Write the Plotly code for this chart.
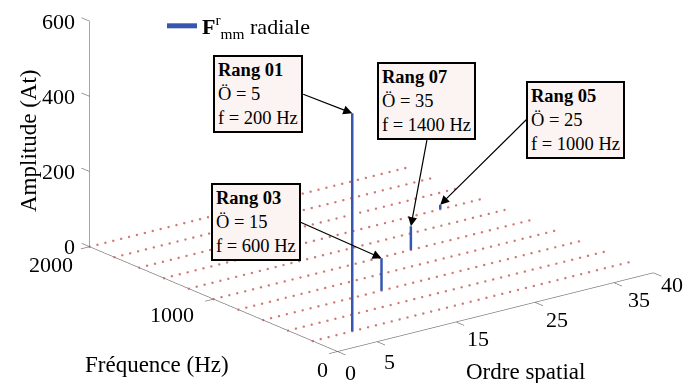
import plotly.graph_objects as go

# ---------------- data ----------------
stem_order = [5, 15, 25, 35]
stem_freq = [200, 600, 1000, 1400]
stem_amp = [580, 86, 63, 12]

grid_order = list(range(0, 41))
grid_freq = [200, 400, 600, 800, 1000, 1200, 1400, 1600, 1800, 2000]

order_ticks = [0, 5, 15, 25, 35, 40]
freq_ticks = [0, 1000, 2000]
amp_ticks = [0, 200, 400, 600]

labels = ["Rang 01", "Rang 03", "Rang 07", "Rang 05"]
label_order = [5, 15, 35, 25]
label_freq = [200, 600, 1400, 1000]

# label placement (pixel shifts, style only)
order_shift_x = [13, 12, 22, 22, 25, 19]
order_shift_y = [-21, -20, -17, -17, -17, -12]
freq_shift_x = [-8, -18, -15]
freq_shift_y = [-18, -15, -18]

SERIF = "Liberation Serif, Times New Roman, serif"
AX = "#707070"
BLUE = "#3656b0"

fig = go.Figure()

# zero-level grid points (dotted red)
gx, gy, gz = [], [], []
for f in grid_freq:
    for o in grid_order:
        gx.append(o); gy.append(f); gz.append(0)
fig.add_trace(go.Scatter3d(x=gx, y=gy, z=gz, mode="markers",
                           marker=dict(size=1.4, color="#d27676", line=dict(width=0)),
                           showlegend=False, hoverinfo="skip"))

# axis lines and ticks
O_MAX, F_MAX, Z_MAX = order_ticks[-1], freq_ticks[-1], amp_ticks[-1]
lx, ly, lz = [], [], []
def seg(p, q):
    lx.extend([p[0], q[0], None]); ly.extend([p[1], q[1], None]); lz.extend([p[2], q[2], None])
seg((0, 0, 0), (O_MAX, 0, 0))
seg((0, 0, 0), (0, F_MAX, 0))
seg((0, F_MAX, 0), (0, F_MAX, Z_MAX))
for o in order_ticks:
    seg((o, 0, 0), (o, -65, 0))
for f in freq_ticks:
    seg((0, f, 0), (-1.1, f, 0))
for z in amp_ticks:
    seg((0, F_MAX, z), (0, F_MAX + 65, z))
fig.add_trace(go.Scatter3d(x=lx, y=ly, z=lz, mode="lines",
                           line=dict(color=AX, width=1.3),
                           showlegend=False, hoverinfo="skip"))

# stems
sx, sy, sz = [], [], []
for o, f, a in zip(stem_order, stem_freq, stem_amp):
    sx.extend([o, o, None]); sy.extend([f, f, None]); sz.extend([0, a, None])
fig.add_trace(go.Scatter3d(x=sx, y=sy, z=sz, mode="lines",
                           line=dict(color=BLUE, width=5),
                           name="<b>F</b><sup>r</sup><sub>mm</sub> radiale",
                           hoverinfo="skip"))

# annotations in the scene
ann = []
tick_font = dict(family=SERIF, size=22, color="black")
for o, dx, dy in zip(order_ticks, order_shift_x, order_shift_y):
    ann.append(dict(x=o, y=0, z=0, text=str(o), showarrow=False,
                    xanchor="center", yanchor="middle", xshift=dx, yshift=dy, font=tick_font))
for f, dx, dy in zip(freq_ticks, freq_shift_x, freq_shift_y):
    ann.append(dict(x=0, y=f, z=0, text=str(f), showarrow=False,
                    xanchor="right", yanchor="middle", xshift=dx, yshift=dy, font=tick_font))
for z in amp_ticks:
    ann.append(dict(x=0, y=F_MAX, z=z, text=str(z), showarrow=False,
                    xanchor="right", yanchor="middle", xshift=-13, yshift=0, font=tick_font))

# callouts: tip data point, offset of the tail, anchor of the box
tips = {
    "Rang 01": (5, 200, 580, -49, -19, "right", "middle"),
    "Rang 03": (15, 600, 86, -81, -36, "right", "middle"),
    "Rang 07": (25, 1000, 63, 16, -86, "center", "bottom"),
    "Rang 05": (35, 1400, 12, 86, -85, "left", "middle"),
}
for lab, o, f in zip(labels, label_order, label_freq):
    tx, ty, tz, axo, ayo, xa, ya = tips[lab]
    ann.append(dict(x=tx, y=ty, z=tz,
                    text=f"<b>{lab}</b><br>Ö = {o}<br>f = {f} Hz",
                    align="left", showarrow=True, arrowhead=2, arrowsize=1.5,
                    arrowwidth=1.2, arrowcolor="black", ax=axo, ay=ayo,
                    xanchor=xa, yanchor=ya, bgcolor="#fbf4f2", bordercolor="black",
                    borderwidth=2, borderpad=3, standoff=0,
                    font=dict(family=SERIF, size=18.5, color="black")))

# camera: view direction, translated centre
vdir = (-0.576, -0.750, 0.3245)
cen = (-0.1505, 0.0226, -0.2150)
d = 2.0
eye = dict(x=cen[0] + vdir[0] * d, y=cen[1] + vdir[1] * d, z=cen[2] + vdir[2] * d)
k = 2.75 * 304 / 383

hidden = dict(visible=False, showgrid=False, zeroline=False, showbackground=False,
              showspikes=False)
fig.update_layout(
    width=684, height=383,
    margin=dict(l=0, r=0, t=0, b=0),
    paper_bgcolor="white",
    font=dict(family=SERIF, size=22, color="black"),
    showlegend=True,
    legend=dict(x=162 / 684, y=1 - 26 / 383, xanchor="left", yanchor="middle",
                bgcolor="rgba(0,0,0,0)", font=dict(family=SERIF, size=22)),
    scene=dict(
        domain=dict(x=[0, 1], y=[0, 1]),
        xaxis=dict(range=[-1.5, 40.5], **hidden),
        yaxis=dict(range=[-80, 2080], **hidden),
        zaxis=dict(range=[-4, 604], **hidden),
        aspectmode="manual",
        aspectratio=dict(x=1 * k, y=1.052 * k, z=0.578 * k),
        camera=dict(eye=eye, up=dict(x=0, y=0, z=1),
                    center=dict(x=cen[0], y=cen[1], z=cen[2]),
                    projection=dict(type="orthographic")),
        annotations=ann,
    ),
    annotations=[
        dict(text="Amplitude (At)", x=29 / 684, y=1 - 141 / 383, xref="paper", yref="paper",
             xanchor="center", yanchor="middle",
             showarrow=False, textangle=-90, font=dict(family=SERIF, size=23)),
        dict(text="Fréquence (Hz)", x=157 / 684, y=1 - 364 / 383, xref="paper", yref="paper",
             xanchor="center", yanchor="middle",
             showarrow=False, font=dict(family=SERIF, size=23)),
        dict(text="Ordre spatial", x=525 / 684, y=1 - 371 / 383, xref="paper", yref="paper",
             xanchor="center", yanchor="middle",
             showarrow=False, font=dict(family=SERIF, size=23)),
    ],
)

fig.write_html("out.html", config={"displayModeBar": False},
               post_script="document.body.style.margin='0';")
